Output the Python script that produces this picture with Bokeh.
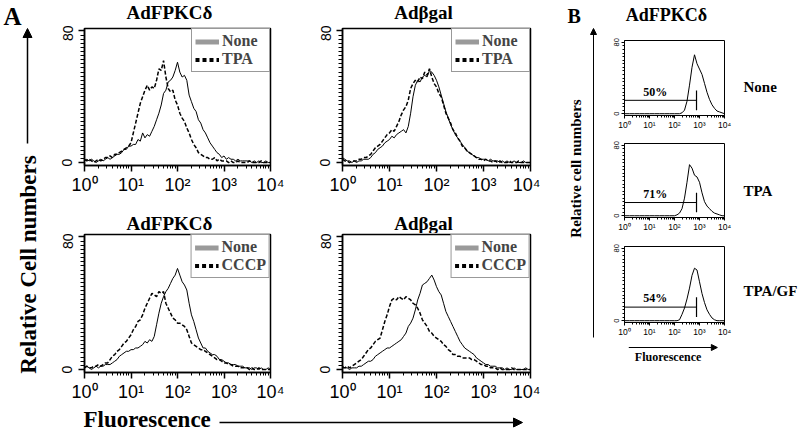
from bokeh.plotting import figure
from bokeh.layouts import row, column
from bokeh.models import Range1d, FixedTicker, Legend, LegendItem, Arrow, NormalHead
from bokeh.core.properties import value
from bokeh.embed import file_html
from bokeh.resources import INLINE

SERIF = "Liberation Serif"
SANS = "Liberation Sans"

# ---------------- data ----------------
DECADES = [1, 10, 100, 1000, 10000]
DECADE_LABELS = ["10⁰", "10¹", "10²", "10³", "10⁴"]

# channel positions (log10 of fluorescence) for panel A histograms
LOG_CH_A = [0.00, 0.05, 0.10, 0.15, 0.20, 0.25, 0.30, 0.35, 0.40, 0.45,
            0.50, 0.55, 0.60, 0.65, 0.70, 0.75, 0.80, 0.85, 0.90, 0.95,
            1.00, 1.05, 1.10, 1.15, 1.20, 1.25, 1.30, 1.35, 1.40, 1.45,
            1.50, 1.55, 1.60, 1.65, 1.70, 1.75, 1.80, 1.85, 1.90, 1.95,
            2.00, 2.05, 2.10, 2.15, 2.20, 2.25, 2.30, 2.35, 2.40, 2.45,
            2.50, 2.55, 2.60, 2.65, 2.70, 2.75, 2.80, 2.85, 2.90, 2.95,
            3.00, 3.05, 3.10, 3.15, 3.20, 3.25, 3.30, 3.35, 3.40, 3.45,
            3.50, 3.55, 3.60, 3.65, 3.70, 3.75, 3.80, 3.85, 3.90, 3.95, 4.00]

A_TL_NONE = [1, 2, 1, 2, 1, 0, 1, 2, 1, 2,
             3, 2, 3, 4, 5, 5, 6, 8, 8, 10,
             10, 11, 11, 14, 13, 18, 15, 17, 16, 19,
             22, 26, 30, 35, 42, 44, 49, 50, 52, 56,
             61, 55, 52, 53, 50, 41, 37, 33, 31, 26,
             24, 20, 18, 15, 12, 10, 8, 6, 5, 3,
             4, 2, 3, 2, 2, 1, 2, 1, 1, 1,
             1, 1, 0, 1, 0, 1, 0, 0, 1, 0, 0]
A_TL_TPA = [2, 1, 2, 1, 0, 1, 2, 1, 2, 3,
            3, 4, 3, 5, 5, 6, 7, 8, 9, 10,
            12, 18, 24, 30, 36, 40, 44, 47, 44, 46,
            45, 50, 57, 56, 62, 52, 45, 43, 44, 38,
            35, 30, 27, 25, 21, 18, 14, 11, 9, 6,
            5, 4, 3, 3, 2, 2, 3, 1, 2, 1,
            1, 1, 0, 1, 0, 0, 1, 0, 0, 0,
            0, 1, 0, 0, 0, 0, 1, 0, 0, 0, 0]
A_TR_NONE = [3, 2, 1, 1, 0, 1, 0, 1, 1, 2,
             2, 2, 3, 5, 6, 8, 9, 10, 12, 13,
             14, 16, 15, 17, 18, 19, 20, 18, 22, 30,
             40, 47, 50, 49, 52, 53, 52, 56, 55, 53,
             50, 46, 41, 36, 31, 27, 23, 20, 17, 15,
             13, 11, 9, 7, 6, 5, 4, 3, 3, 2,
             2, 2, 1, 2, 1, 1, 1, 0, 1, 0,
             1, 0, 0, 1, 0, 0, 0, 1, 0, 0, 0]
A_TR_TPA = [2, 1, 1, 0, 1, 1, 1, 2, 2, 3,
            3, 4, 5, 7, 9, 10, 11, 13, 15, 17,
            18, 20, 19, 22, 25, 29, 32, 34, 38, 45,
            48, 50, 49, 52, 51, 55, 53, 57, 52, 48,
            46, 42, 40, 35, 30, 27, 24, 20, 18, 15,
            13, 10, 9, 7, 6, 5, 4, 3, 2, 2,
            1, 2, 1, 1, 0, 1, 0, 1, 0, 0,
            0, 1, 0, 0, 0, 1, 0, 0, 0, 0, 0]
A_BL_NONE = [1, 2, 1, 0, 1, 2, 1, 2, 2, 3,
             3, 3, 4, 5, 6, 8, 9, 10, 11, 11,
             12, 12, 13, 13, 14, 15, 17, 16, 18, 17,
             20, 27, 34, 40, 44, 47, 49, 52, 55, 57,
             61, 57, 53, 51, 48, 40, 33, 29, 24, 19,
             16, 13, 13, 11, 10, 9, 9, 8, 6, 6,
             5, 4, 4, 3, 3, 3, 2, 2, 2, 1,
             1, 1, 0, 1, 1, 0, 1, 0, 0, 1, 0]
A_BL_CCCP = [1, 2, 1, 1, 2, 2, 3, 2, 3, 4,
             4, 6, 8, 9, 11, 12, 14, 16, 17, 19,
             21, 24, 26, 29, 30, 33, 37, 40, 43, 46,
             45, 44, 47, 46, 47, 40, 37, 34, 31, 30,
             28, 28, 27, 26, 24, 20, 16, 15, 14, 13,
             12, 12, 11, 10, 9, 8, 7, 6, 6, 5,
             4, 4, 3, 3, 2, 2, 2, 1, 1, 1,
             1, 0, 1, 0, 0, 1, 0, 0, 0, 0, 0]
A_BR_NONE = [2, 1, 1, 0, 1, 1, 1, 2, 2, 3,
             4, 5, 5, 6, 8, 9, 10, 11, 12, 13,
             13, 14, 15, 16, 17, 18, 20, 22, 26, 28,
             31, 36, 42, 46, 51, 52, 53, 55, 57, 54,
             50, 47, 45, 40, 35, 32, 29, 26, 23, 20,
             17, 15, 13, 12, 11, 10, 9, 7, 6, 5,
             4, 3, 3, 2, 2, 2, 1, 1, 1, 0,
             1, 0, 0, 1, 0, 0, 0, 0, 1, 0, 0]
A_BR_CCCP = [1, 1, 2, 1, 2, 3, 4, 5, 6, 8,
             10, 12, 13, 15, 17, 18, 19, 24, 29, 33,
             38, 42, 43, 42, 44, 43, 42, 44, 43, 42,
             40, 39, 37, 34, 30, 28, 26, 23, 22, 20,
             19, 18, 17, 15, 14, 12, 11, 9, 9, 8,
             8, 7, 7, 7, 7, 6, 6, 5, 4, 3,
             3, 2, 2, 1, 1, 1, 0, 1, 0, 0,
             0, 0, 1, 0, 0, 0, 0, 0, 0, 0, 0]

# panel B histograms
LOG_CH_B = [0.0, 0.1, 0.2, 0.3, 0.4, 0.5, 0.6, 0.7, 0.8, 0.9,
            1.0, 1.1, 1.2, 1.3, 1.4, 1.5, 1.6, 1.7, 1.8, 1.9,
            2.0, 2.1, 2.2, 2.3, 2.4, 2.5, 2.6, 2.7, 2.8, 2.9,
            3.0, 3.1, 3.2, 3.3, 3.4, 3.5, 3.6, 3.7, 3.8, 3.9, 4.0]
B_NONE = [0, 0, 0, 0, 0, 0, 0, 0, 0, 0,
          0, 0, 0, 0, 0, 0, 0, 0, 0, 0,
          0, 0, 0, 1, 4, 14, 32, 52, 66, 56,
          50, 44, 34, 24, 16, 10, 6, 3, 2, 1, 0]
B_TPA = [0, 0, 0, 0, 0, 0, 0, 0, 0, 0,
         0, 0, 0, 0, 0, 0, 0, 0, 0, 0,
         0, 1, 3, 8, 20, 38, 58, 54, 46, 44,
         38, 26, 16, 11, 8, 5, 3, 2, 1, 0, 0]
B_TPAGF = [0, 0, 0, 0, 0, 0, 0, 0, 0, 0,
           0, 0, 0, 0, 0, 0, 0, 0, 0, 0,
           0, 0, 1, 7, 14, 24, 36, 50, 58, 56,
           43, 30, 20, 12, 7, 3, 1, 0, 0, 0, 0]
B_CONDITIONS = ["None", "TPA", "TPA/GF"]
B_PERCENTS = ["50%", "71%", "54%"]
GATE_X = 760        # marker position (fluorescence)
GATE_Y = 15         # marker height
GATE_Y_LO, GATE_Y_HI = 4, 26
PCT_X, PCT_Y = 17, 17

# ---------------- helpers ----------------
MINOR_X = [m * d for d in DECADES[:-1] for m in range(2, 10)]


def strip(w, h):
    f = figure(width=w, height=h, x_range=Range1d(0, w), y_range=Range1d(h, 0),
               x_axis_location=None, y_axis_location=None, output_backend="svg",
               toolbar_location=None, min_border=0)
    f.grid.visible = False
    f.outline_line_color = None
    f.background_fill_color = "white"
    f.border_fill_color = "white"
    return f


def txt(f, x, y, s, size, angle=0.0, align="left", font=SERIF, style="bold"):
    f.text(x=[x], y=[y], text=[s], text_font=value(font), text_font_style=style,
           text_font_size=size, text_align=align, text_baseline="middle",
           angle=angle, text_color="black")


def arrow(f, x0, y0, x1, y1, size=9, lw=1.5):
    f.add_layout(Arrow(end=NormalHead(size=size, fill_color="black", line_color="black"),
                       x_start=x0, y_start=y0, x_end=x1, y_end=y1,
                       line_color="black", line_width=lw))


def style_axes(p, big=True):
    p.grid.visible = False
    p.outline_line_color = "black"
    p.outline_line_width = 1.5 if big else 1
    p.background_fill_color = "white"
    p.border_fill_color = "white"
    xa, ya = p.xaxis[0], p.yaxis[0]
    xa.ticker = FixedTicker(ticks=DECADES, minor_ticks=MINOR_X)
    xa.major_label_overrides = dict(zip(DECADES, DECADE_LABELS))
    if big:
        ya.ticker = FixedTicker(ticks=[0, 80], minor_ticks=[i * 2.5 for i in range(33)])
    else:
        ya.ticker = FixedTicker(ticks=[0, 80], minor_ticks=[i * 4 for i in range(21)])
    ya.major_label_orientation = "vertical"
    for a in (xa, ya):
        a.axis_line_color = "black"
        a.axis_line_width = 1.5 if big else 1
        a.major_tick_line_color = "black"
        a.minor_tick_line_color = "black"
        a.major_tick_line_width = 1.5 if big else 1
        a.minor_tick_line_width = 1
        a.major_tick_in = 0
        a.minor_tick_in = 0
        a.major_label_text_font = SANS
        a.major_label_text_color = "black"
    if big:
        xa.major_tick_out, xa.minor_tick_out = 6, 3
        ya.major_tick_out, ya.minor_tick_out = 6, 4
        xa.major_label_text_font_size = "18px"
        ya.major_label_text_font_size = "14px"
        xa.major_label_standoff = 3
        ya.major_label_standoff = 6
    else:
        xa.major_tick_out, xa.minor_tick_out = 3, 2
        ya.major_tick_out, ya.minor_tick_out = 3, 2
        xa.major_label_text_font_size = "8.5px"
        ya.major_label_text_font_size = "7.5px"
        xa.major_label_standoff = 1
        ya.major_label_standoff = 2


def panel_a(w, h, bl, br, bt, bb, none_vals, treat_vals, treat_label):
    p = figure(width=w, height=h, x_axis_type="log", x_range=Range1d(1, 10000),
               y_range=Range1d(-1.8, 81.5), output_backend="svg", toolbar_location=None,
               min_border_left=bl, min_border_right=br, min_border_top=bt,
               min_border_bottom=bb)
    style_axes(p, big=True)
    xs = [10 ** v for v in LOG_CH_A]
    p.line(xs, none_vals, line_color="black", line_width=1)
    p.line(xs, treat_vals, line_color="black", line_width=1.5, line_dash="4 2")
    # legend keys (hidden copies of the series, styled as in the printed key)
    kn = p.line(xs, none_vals, line_color="#9a9a9a", line_width=5, visible=False)
    kt = p.line(xs, treat_vals, line_color="black", line_width=4, line_dash="4 3",
                visible=False)
    leg = Legend(items=[LegendItem(label="None", renderers=[kn]),
                        LegendItem(label=treat_label, renderers=[kt])],
                 location="top_right")
    leg.margin = 0
    leg.padding = 3
    leg.spacing = 0
    leg.label_text_font = SERIF
    leg.label_text_font_style = "bold"
    leg.label_text_font_size = "16px"
    leg.glyph_width = 24
    leg.glyph_height = 17
    leg.label_height = 17
    leg.label_width = 44
    leg.label_standoff = 3
    leg.border_line_color = "#333333"
    leg.border_line_width = 1
    leg.background_fill_color = "white"
    leg.background_fill_alpha = 1
    p.add_layout(leg)
    return p


def panel_b(h, bt, bb, vals, pct):
    p = figure(width=140, height=h, x_axis_type="log", x_range=Range1d(1, 10000),
               y_range=Range1d(-2, 82), output_backend="svg", toolbar_location=None,
               min_border_left=24, min_border_right=16, min_border_top=bt,
               min_border_bottom=bb)
    style_axes(p, big=False)
    xs = [10 ** v for v in LOG_CH_B]
    p.line(xs, vals, line_color="black", line_width=1)
    p.line([1, GATE_X], [GATE_Y, GATE_Y], line_color="black", line_width=1)
    p.line([GATE_X, GATE_X], [GATE_Y_LO, GATE_Y_HI], line_color="black", line_width=1.2)
    p.text(x=[PCT_X], y=[PCT_Y], text=[pct], text_font=value(SERIF), text_font_style="bold",
           text_font_size="12px", text_align="center", text_baseline="bottom",
           text_color="black")
    return p


# ---------------- panel A ----------------
TL = panel_a(258, 180, 30, 42, 3, 40, A_TL_NONE, A_TL_TPA, "TPA")
TR = panel_a(228, 180, 30, 10, 3, 40, A_TR_NONE, A_TR_TPA, "TPA")
BL = panel_a(258, 171, 30, 42, 1, 30, A_BL_NONE, A_BL_CCCP, "CCCP")
BR = panel_a(228, 171, 30, 10, 1, 30, A_BR_NONE, A_BR_CCCP, "CCCP")

headerTop = strip(486, 25)
txt(headerTop, 115, 12, "AdFPKCδ", "19px", align="center")
txt(headerTop, 369, 12, "Adβgal", "19px", align="center")

headerMid = strip(486, 28)
txt(headerMid, 115, 17.5, "AdFPKCδ", "19px", align="center")
txt(headerMid, 369, 17.5, "Adβgal", "19px", align="center")

leftA = strip(54, 404)
txt(leftA, 3, 15.5, "A", "25px")
arrow(leftA, 27, 143, 27, 28, size=9, lw=1.5)
txt(leftA, 28, 264, "Relative Cell numbers", "23px", angle=1.5707963, align="center")

fluorA = strip(540, 28)
txt(fluorA, 83, 15, "Fluorescence", "23px")
arrow(fluorA, 219, 18, 522, 18, size=9, lw=1.5)

colA = column(row(leftA, column(headerTop, row(TL, TR), headerMid, row(BL, BR))), fluorA)

# ---------------- panel B ----------------
p1 = panel_b(106, 14, 17, B_NONE, B_PERCENTS[0])
p2 = panel_b(103, 11, 18, B_TPA, B_PERCENTS[1])
p3 = panel_b(104, 11, 17, B_TPAGF, B_PERCENTS[2])

fluorB = strip(140, 31)
arrow(fluorB, 6, 8, 130, 8, size=6, lw=1)
txt(fluorB, 61, 17, "Fluorescence", "12px", align="center")

headerB = strip(260, 26)
txt(headerB, 27, 15, "B", "20px")
txt(headerB, 126, 14.5, "AdFPKCδ", "18px", align="center")

leftB = strip(60, 344)
arrow(leftB, 53, 311, 53, 2, size=6, lw=1)
txt(leftB, 35, 142, "Relative cell numbers", "15px", angle=1.5707963, align="center")

rightB = strip(60, 344)
for cond, yy in zip(B_CONDITIONS, [60, 164, 264]):
    txt(rightB, 3, yy, cond, "15px")

colB = column(headerB, row(leftB, column(p1, p2, p3, fluorB), rightB))

layout = row(colA, colB)

open("out.html", "w").write(file_html(layout, INLINE))
